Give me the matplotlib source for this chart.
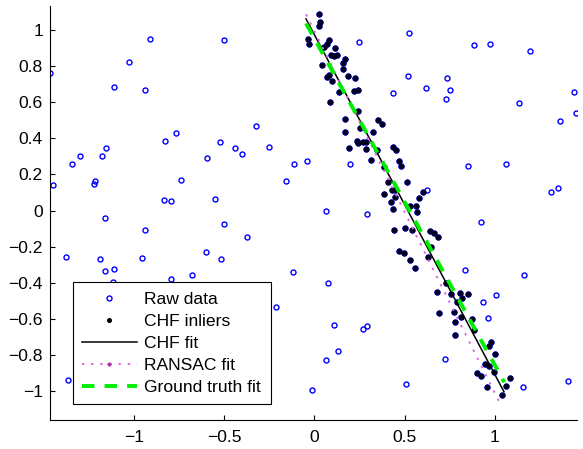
import numpy as np
import matplotlib
matplotlib.use('Agg')
import matplotlib.pyplot as plt
from matplotlib.lines import Line2D
from matplotlib.ticker import FuncFormatter

plt.rcParams.update({
    'font.family': ['Liberation Sans', 'DejaVu Sans'],
    'font.size': 12.6,
    'axes.linewidth': 0.8,
    'xtick.direction': 'in',
    'ytick.direction': 'in',
    'xtick.major.size': 3.6,
    'ytick.major.size': 3.6,
    'xtick.major.pad': 7,
    'ytick.major.pad': 5,
})

# raw data that the CHF fit rejected
out_x = [-1.467, -1.030, -0.911, -1.110, -0.938, -0.766, -0.827, -1.156, -0.504, 0.247,
         -0.324, -0.522, -0.439, -0.251, 0.526, 0.885, 0.972, 1.197, 0.517, 0.733,
         0.617, 0.752, 0.435, 0.728, 1.136, 1.439, 1.450, 1.363, -1.449, -1.343,
         -1.299, -1.177, -1.225, -1.219, -0.740, -0.833, -0.794, -1.162, -0.940, -1.380,
         -1.188, -0.957, -1.162, -1.114, -1.119, -0.798, -0.678, -0.400, -0.598, -0.112,
         -0.040, 0.195, -0.160, -0.550, 0.065, 0.291, -0.500, -0.373, -0.602, -0.520,
         -0.119, 0.075, 0.853, 1.064, 1.312, 1.352, 0.624, 0.922, 0.836, 1.164,
         -1.366, -0.214, 0.106, 0.269, 0.290, 0.132, 0.062, -0.014, 1.007, 0.936,
         0.964, 0.722, 0.506, 1.158, 1.404]
out_y = [0.762, 0.821, 0.952, 0.682, 0.668, 0.431, 0.385, 0.348, 0.946, 0.935,
         0.470, 0.380, 0.348, 0.350, 0.983, 0.915, 0.924, 0.882, 0.747, 0.736,
         0.677, 0.666, 0.649, 0.618, 0.597, 0.657, 0.539, 0.498, 0.141, 0.258,
         0.302, 0.302, 0.147, 0.163, 0.167, 0.058, 0.053, -0.040, -0.106, -0.259,
         -0.269, -0.261, -0.333, -0.322, -0.394, -0.378, -0.357, 0.311, 0.289, 0.256,
         0.276, 0.256, 0.162, 0.064, -0.003, -0.021, -0.075, -0.147, -0.230, -0.269,
         -0.339, -0.403, 0.245, 0.258, 0.104, 0.125, 0.112, -0.065, -0.331, -0.356,
         -0.939, -0.536, -0.636, -0.656, -0.642, -0.780, -0.826, -0.994, -0.468, -0.509,
         -0.596, -0.821, -0.961, -0.980, -0.943]

# CHF inliers
in_x = [0.025, 0.032, 0.027, -0.038, -0.031, 0.082, 0.067, 0.053, 0.116, 0.092,
        0.106, 0.127, 0.169, 0.156, 0.156, 0.042, 0.082, 0.069, 0.097, 0.184,
        0.226, 0.138, 0.219, 0.239, 0.084, 0.241, 0.171, 0.350, 0.374, 0.169,
        0.254, 0.324, 0.236, 0.241, 0.271, 0.285, 0.193, 0.284, 0.347, 0.435,
        0.450, 0.312, 0.467, 0.482, 0.387, 0.515, 0.408, 0.446, 0.430, 0.600,
        0.581, 0.387, 0.446, 0.422, 0.532, 0.561, 0.570, 0.437, 0.441, 0.502,
        0.543, 0.642, 0.665, 0.687, 0.469, 0.498, 0.532, 0.628, 0.645, 0.557,
        0.727, 0.679, 0.759, 0.807, 0.816, 0.851, 0.792, 0.690, 0.776, 0.811,
        0.872, 0.777, 0.886, 0.781, 0.977, 0.966, 1.001, 0.944, 0.966, 0.997,
        0.899, 0.923, 1.082, 1.060, 0.959, 1.040]
in_y = [1.087, 1.046, 1.020, 0.952, 0.922, 0.946, 0.921, 0.906, 0.898, 0.861,
        0.856, 0.860, 0.841, 0.815, 0.786, 0.808, 0.753, 0.738, 0.719, 0.745,
        0.736, 0.655, 0.662, 0.666, 0.603, 0.551, 0.507, 0.500, 0.479, 0.433,
        0.455, 0.437, 0.387, 0.372, 0.378, 0.380, 0.348, 0.341, 0.335, 0.350,
        0.335, 0.278, 0.272, 0.248, 0.243, 0.156, 0.158, 0.112, 0.114, 0.104,
        0.069, 0.093, 0.073, 0.049, 0.023, 0.023, -0.010, 0.008, -0.108, -0.097,
        -0.106, -0.112, -0.126, -0.145, -0.223, -0.235, -0.276, -0.256, -0.204, -0.317,
        -0.402, -0.450, -0.463, -0.455, -0.483, -0.464, -0.509, -0.570, -0.562, -0.592,
        -0.601, -0.620, -0.664, -0.692, -0.727, -0.749, -0.797, -0.850, -0.860, -0.893,
        -0.898, -0.915, -0.930, -0.970, -0.978, -1.022]

# line fits: slope, intercept, x range
chf_fit = (-1.881, 0.973, [-0.047, 1.051])
ransac_fit = (-2.004, 0.993, [-0.047, 1.036])
truth_fit = (-1.808, 0.952, [-0.047, 1.053])

xticks = [-1, -0.5, 0, 0.5, 1]
yticks = [-1, -0.8, -0.6, -0.4, -0.2, 0, 0.2, 0.4, 0.6, 0.8, 1]


def fit_line(fit):
    k, b, xr = fit
    xs = np.array(xr)
    return xs, k * xs + b


raw_x = np.array(out_x + in_x)
raw_y = np.array(out_y + in_y)

fig = plt.figure(figsize=(5.83, 4.49), dpi=100)
ax = fig.add_axes([0.0858, 0.064, 0.9039, 0.9226])

ax.plot(raw_x, raw_y, 'o', ls='none', ms=3.6, mfc='none', mec='#0000ff', mew=1.0)
ax.plot(in_x, in_y, 'o', ls='none', ms=3.6, mfc='#000010', mec='#000030', mew=0.6)

xs, ys = fit_line(chf_fit)
ax.plot(xs, ys, color='black', lw=1.1)
xs, ys = fit_line(ransac_fit)
ax.plot(xs, ys, color='#dd66dd', lw=1.4, ls=(0, (1.2, 3.5)))
xs, ys = fit_line(truth_fit)
ax.plot(xs, ys, color='#00ee00', lw=2.8, ls=(0, (3.2, 2.6)))

ax.set_xlim(-1.467, 1.456)
ax.set_ylim(-1.162, 1.133)
ax.set_xticks(xticks)
ax.set_yticks(yticks)
fmt = FuncFormatter(lambda v, p: f'{v:g}'.replace('-', '\u2212'))
ax.xaxis.set_major_formatter(fmt)
ax.yaxis.set_major_formatter(fmt)
ax.spines['top'].set_visible(False)
ax.spines['right'].set_visible(False)

handles = [
    Line2D([], [], ls='none', marker='o', ms=3.6, mfc='none', mec='#0000ff', mew=1.0),
    Line2D([], [], ls='none', marker='o', ms=2.6, mfc='black', mec='black'),
    Line2D([], [], color='black', lw=1.1),
    Line2D([], [], color='#dd66dd', lw=1.4, ls=(0, (1.2, 3.5)),
           marker='.', ms=4, mfc='#aa33aa', mec='#aa33aa'),
    Line2D([], [], color='#00ee00', lw=2.8, ls=(0, (3.2, 2.6))),
]
labels = ['Raw data', 'CHF inliers', 'CHF fit', 'RANSAC fit', 'Ground truth fit']
leg = ax.legend(handles, labels, loc='lower left', bbox_to_anchor=(0.043, 0.0386),
                borderaxespad=0, fancybox=False, framealpha=1, edgecolor='black',
                handlelength=3.1, handletextpad=0.45, labelspacing=0.38,
                borderpad=0.55, numpoints=1)
leg.get_frame().set_linewidth(0.8)

fig.savefig('out.png', dpi=100)
plt.close(fig)
